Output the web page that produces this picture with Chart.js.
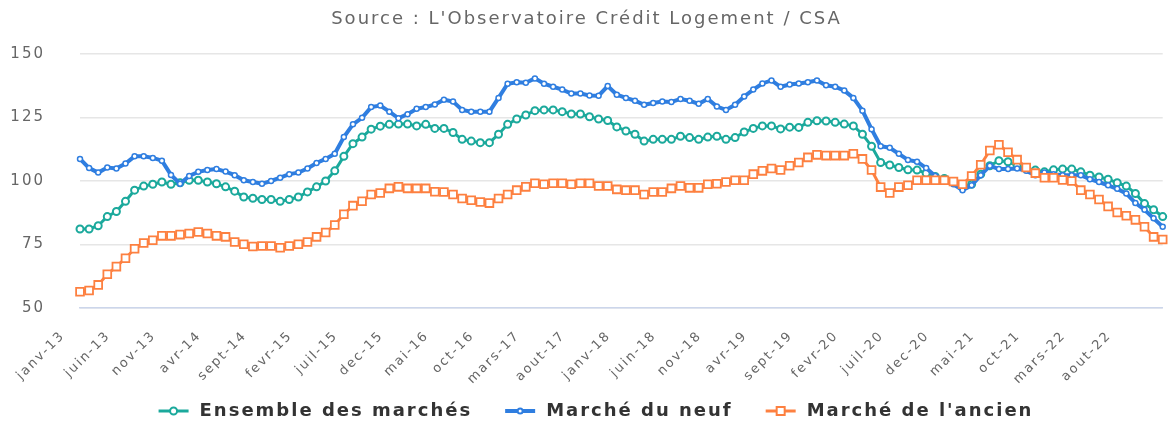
<!DOCTYPE html>
<html lang="fr">
<head>
<meta charset="UTF-8">
<title>Indices des prix - Crédit Logement / CSA</title>
<script src="https://cdn.jsdelivr.net/npm/chart.js"></script>
<style>
  html, body { margin: 0; padding: 0; background: #fff; }
  #cadre { width: 1170px; height: 421px; }
</style>
</head>
<body>
<div id="cadre"><canvas id="chartPrix"></canvas></div>

<script>
  // Données : janv-13 -> dec-22, mensuel
  const mois = ['janv', 'fevr', 'mars', 'avr', 'mai', 'juin', 'juil', 'aout', 'sept', 'oct', 'nov', 'dec'];
  const annees = ['13', '14', '15', '16', '17', '18', '19', '20', '21', '22'];

  const labels = [];
  annees.forEach(a => mois.forEach(m => labels.push(m + '-' + a)));

  const ensemble = [
    81.1, 81.1, 82.4, 86, 88, 92, 96.4, 98, 98.7, 99.6, 98.7, 99.3,
    100.3, 100.3, 99.6, 98.9, 97.7, 96, 93.7, 93.2, 92.7, 92.7, 92, 92.7,
    93.7, 95.7, 97.7, 100, 104, 109.7, 114.7, 117.3, 120.4, 121.6, 122.3, 122.4,
    122.4, 121.7, 122.3, 120.7, 120.7, 119.1, 116.4, 115.7, 115.1, 115.1, 118.4, 122.3,
    124.4, 126, 127.7, 128, 128, 127.3, 126.4, 126.4, 125.3, 124.4, 123.8, 121.3,
    119.7, 118.4, 115.7, 116.4, 116.4, 116.4, 117.6, 117.1, 116.4, 117.3, 117.6, 116.4,
    117.1, 119.3, 120.7, 121.7, 121.7, 120.5, 121.2, 121.1, 123.1, 123.7, 123.6, 123.1,
    122.4, 121.7, 118.4, 113.7, 107.3, 106.3, 105.3, 104.4, 104.3, 103.1, 101.8, 101,
    99.5, 97.5, 98.7, 102.7, 106, 108, 107.6, 106, 104.9, 104.3, 103.6, 104.4,
    104.7, 104.7, 103.6, 102.3, 101.6, 100.7, 99.3, 98, 95.1, 91.1, 88.7, 86
  ];

  const neuf = [
    108.7, 105.1, 103.3, 105.3, 104.9, 106.9, 109.7, 109.7, 109.1, 108, 102.4, 98.9,
    102, 103.6, 104.3, 104.7, 103.7, 102.3, 100.3, 99.6, 98.9, 100, 101.3, 102.7,
    103.3, 104.9, 107.1, 108.7, 110.7, 117.3, 122.3, 124.9, 129.1, 129.7, 127.3, 124.7,
    126.3, 128.4, 129.1, 130.1, 132, 131.3, 128, 127.3, 127.3, 127.3, 132.7, 138.3,
    138.9, 138.7, 140.4, 138.3, 137.1, 136, 134.4, 134.4, 133.7, 133.6, 137.4, 134,
    132.7, 131.6, 130, 130.7, 131.3, 131.1, 132.3, 131.6, 130.4, 132.3, 129.3, 128,
    130, 133.3, 136, 138.4, 139.6, 137.1, 138, 138.4, 138.9, 139.6, 137.7, 137.1,
    135.6, 132.7, 127.7, 120.4, 113.7, 113.1, 110.7, 108.3, 107.6, 105.1, 102, 100,
    98.7, 96.4, 98.3, 102.3, 106, 104.7, 104.7, 104.9, 104, 102.3, 103.3, 102.7,
    102.3, 102.3, 102.3, 100.7, 99.6, 98.3, 96.9, 95.1, 91.3, 88.7, 85.3, 82
  ];

  const ancien = [
    56.4, 56.9, 59.1, 63.3, 66.3, 69.6, 73.3, 75.6, 76.7, 78.4, 78.4, 78.9,
    79.3, 79.9, 79.3, 78.4, 78, 76, 75.1, 74.2, 74.4, 74.4, 73.7, 74.4,
    75.1, 76, 78, 79.7, 82.7, 86.9, 90.3, 92, 94.7, 95.3, 97.1, 97.7,
    97.1, 97.1, 97.1, 95.8, 95.7, 94.7, 93.1, 92.4, 91.7, 91.3, 93.1, 94.7,
    96.4, 97.7, 99.1, 98.7, 99.1, 99.1, 98.7, 99.1, 99.1, 98, 98, 96.7,
    96.4, 96.4, 94.7, 95.7, 95.7, 97.1, 98, 97.3, 97.3, 98.7, 98.9, 99.6,
    100.3, 100.3, 102.7, 104, 104.9, 104.3, 106, 107.3, 109.3, 110.3, 110, 110,
    110, 110.7, 108.7, 104.3, 97.6, 95.3, 97.6, 98.3, 100.3, 100.3, 100.3, 100.3,
    99.8, 98.7, 102, 106.4, 112, 114.3, 111.3, 108.4, 105.3, 103.1, 101.3, 101.3,
    100.4, 100, 96.4, 94.7, 92.7, 90, 87.6, 86.3, 84.7, 82, 78, 77
  ];

  const yTicks = [50, 75, 100, 125, 150];

  const police = '"DejaVu Sans", Verdana, sans-serif';
  const teal = '#1ba99c';
  const bleu = '#2f7ee0';
  const orange = '#fd8040';

  // espacement des lettres, comme sur l'original
  const espacement = {
    id: 'espacement',
    beforeUpdate(chart) { chart.ctx.letterSpacing = '2px'; },
    beforeLayout(chart) { chart.ctx.letterSpacing = '2px'; },
    beforeDraw(chart) { chart.ctx.letterSpacing = '2px'; }
  };

  // légende en bas : trait + marqueur puis le nom de la série
  const legende = {
    id: 'legende',
    afterDraw(chart) {
      const c = chart.ctx;
      const sets = chart.data.datasets;
      const yLeg = 411;
      const largSym = 30;
      const ecartTexte = 11;
      const ecartItem = 33;

      c.save();
      c.letterSpacing = '2px';
      c.font = 'bold 18px ' + police;
      c.textBaseline = 'middle';
      c.textAlign = 'left';

      const largeurs = sets.map(d => c.measureText(d.label).width);
      let total = ecartItem * (sets.length - 1);
      largeurs.forEach(w => { total += largSym + ecartTexte + w; });
      let x = 596 - total / 2;

      sets.forEach((d, i) => {
        c.strokeStyle = d.borderColor;
        c.lineWidth = d.borderWidth;
        c.beginPath();
        c.moveTo(x, yLeg);
        c.lineTo(x + largSym, yLeg);
        c.stroke();

        const cx = x + largSym / 2;
        c.fillStyle = '#fff';
        c.lineWidth = 2;
        c.beginPath();
        if (d.pointStyle === 'rect') {
          c.rect(cx - 4, yLeg - 4, 8, 8);
        } else {
          c.arc(cx, yLeg, d.pointRadius, 0, Math.PI * 2);
        }
        c.fill();
        c.stroke();

        c.fillStyle = '#333333';
        c.fillText(d.label, x + largSym + ecartTexte, yLeg);
        x += largSym + ecartTexte + largeurs[i] + ecartItem;
      });
      c.restore();
    }
  };

  const ctx = document.getElementById('chartPrix');

  new Chart(ctx, {
    type: 'line',
    data: {
      labels: labels,
      datasets: [{
        label: 'Ensemble des marchés',
        data: ensemble,
        borderColor: teal,
        backgroundColor: '#fff',
        borderWidth: 3,
        pointStyle: 'circle',
        pointRadius: 3.5,
        pointBorderWidth: 2,
        pointBackgroundColor: '#fff',
        pointBorderColor: teal,
        order: 3
      }, {
        label: 'Marché du neuf',
        data: neuf,
        borderColor: bleu,
        backgroundColor: '#fff',
        borderWidth: 4,
        pointStyle: 'circle',
        pointRadius: 2.5,
        pointBorderWidth: 1.5,
        pointBackgroundColor: '#fff',
        pointBorderColor: bleu,
        order: 2
      }, {
        label: "Marché de l'ancien",
        data: ancien,
        borderColor: orange,
        backgroundColor: '#fff',
        borderWidth: 3,
        pointStyle: 'rect',
        pointRadius: 5.5,
        pointBorderWidth: 1.8,
        pointBackgroundColor: '#fff',
        pointBorderColor: orange,
        order: 1
      }]
    },
    options: {
      responsive: true,
      maintainAspectRatio: false,
      animation: false,
      layout: { padding: { left: 0, right: -3, top: 0, bottom: 0 } },
      elements: { line: { tension: 0 } },
      plugins: {
        title: {
          display: true,
          text: "Source : L'Observatoire Crédit Logement / CSA",
          color: '#666666',
          font: { family: police, size: 18, weight: 'normal' },
          padding: { top: 9, bottom: 23.4 }
        },
        legend: { display: false },
        tooltip: { enabled: false }
      },
      scales: {
        x: {
          grid: { display: false },
          border: { color: '#ccd6eb', width: 1.5 },
          ticks: {
            autoSkip: false,
            maxRotation: 45,
            minRotation: 45,
            padding: 12,
            labelOffset: -17,
            color: '#666666',
            font: { family: police, size: 13 },
            callback: (v, i) => (i % 5 === 0 ? labels[i] : null)
          },
          afterFit: s => {
            s.height = 113;
            s.paddingLeft = 0;
            s.paddingRight = 0;
          }
        },
        y: {
          min: 50,
          max: 150,
          afterBuildTicks: s => { s.ticks = yTicks.map(v => ({ value: v })); },
          ticks: {
            padding: 35,
            color: '#666666',
            font: { family: police, size: 15 }
          },
          grid: { color: '#e6e6e6', lineWidth: 1.5, drawTicks: false },
          border: { display: false },
          afterFit: s => { s.width = 80; }
        }
      }
    },
    plugins: [espacement, legende]
  });
</script>
</body>
</html>
